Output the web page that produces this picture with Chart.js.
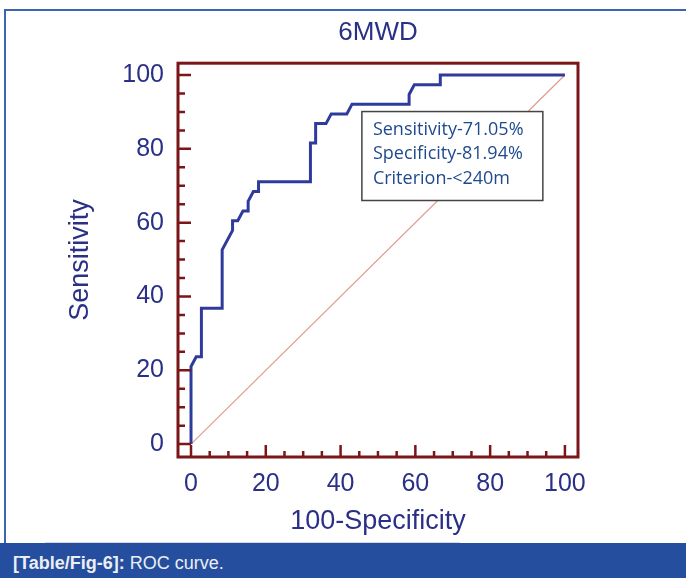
<!DOCTYPE html>
<html>
<head>
<meta charset="utf-8">
<script src="https://cdn.jsdelivr.net/npm/chart.js@4"></script>
<style>
  html, body { margin: 0; padding: 0; background: #fff; }
  body { width: 686px; height: 578px; position: relative; overflow: hidden; }
  #rocCanvas { position: absolute; left: 0; top: 0; }
  .frame-top { position: absolute; left: 4px; top: 9px; width: 682px; height: 2px; background: #3b65b3; }
  .frame-left { position: absolute; left: 4px; top: 9px; width: 2px; height: 534px; background: #3b65b3; }
  .edge { position: absolute; left: 45px; top: 542px; width: 415px; height: 1px; background: #d4d9e4; }
  .caption {
    position: absolute; left: 0; top: 543px; width: 686px; height: 35px;
    background: #254f9e; color: #eceef4;
    font: 18px "Liberation Sans", Arial, sans-serif;
    line-height: 40px; padding-left: 13px; box-sizing: border-box;
  }
  .caption b { font-weight: bold; }
</style>
</head>
<body>
<canvas id="rocCanvas" width="686" height="543"></canvas>
<div class="frame-top"></div>
<div class="frame-left"></div>
<div class="edge"></div>
<div class="caption"><b>[Table/Fig-6]:</b> ROC curve.</div>

<script>
// ── ROC curve data ───────────────────────────────────────────────────────────
// 100-Specificity (x) and Sensitivity (y) of each step on the curve
const fprValues  = [0, 0, 1.39, 2.78, 2.78, 8.33, 8.33, 11.11, 11.11, 12.5, 13.89, 15.28, 15.28, 16.67, 18.06, 18.06,
                    31.94, 31.94, 33.33, 33.33, 36.11, 37.5, 41.67, 43.06, 58.33, 58.33, 59.72, 66.67, 66.67, 100];
const sensValues = [0, 21.05, 23.68, 23.68, 36.84, 36.84, 52.63, 57.89, 60.53, 60.53, 63.16, 63.16, 65.79, 68.42, 68.42, 71.05,
                    71.05, 81.58, 81.58, 86.84, 86.84, 89.47, 89.47, 92.11, 92.11, 94.74, 97.37, 97.37, 100, 100];
const diagX = [0, 100];
const diagY = [0, 100];

const xTickValues = [0, 20, 40, 60, 80, 100];
const yTickValues = [0, 20, 40, 60, 80, 100];
const boxLines = ['Sensitivity-71.05%', 'Specificity-81.94%', 'Criterion-<240m'];

const NAVY   = '#2b3087';
const MAROON = '#7b1518';
const AXIS_FONT = '"Liberation Sans", Arial, sans-serif';

// Frame, inward ticks and the results box — MedCalc style
const rocDecor = {
  id: 'rocDecor',
  afterDatasetsDraw(chart) {
    const { ctx, scales: { x, y } } = chart;
    // results box, anchored in data units
    const left = x.getPixelForValue(45.7), right = x.getPixelForValue(94.1);
    const top = y.getPixelForValue(90.1), bottom = y.getPixelForValue(66.0);
    ctx.save();
    ctx.fillStyle = '#fff';
    ctx.fillRect(left, top, right - left, bottom - top);
    ctx.strokeStyle = '#444';
    ctx.lineWidth = 1.5;
    ctx.strokeRect(left, top, right - left, bottom - top);
    ctx.fillStyle = '#1f4a8e';
    ctx.font = '18px "Open Sans", sans-serif';
    ctx.textBaseline = 'middle';
    boxLines.forEach((t, i) => ctx.fillText(t, left + 11, top + 18 + i * 24.5));
    ctx.restore();
  },
  afterDraw(chart) {
    const { ctx, chartArea: a, scales: { x, y } } = chart;
    ctx.save();
    ctx.strokeStyle = MAROON;
    ctx.lineWidth = 2.5;
    ctx.beginPath();
    for (let v = 0; v <= 100; v += 5) {
      const major = v % 20 === 0;
      const px = x.getPixelForValue(v);
      ctx.moveTo(px, a.bottom);
      ctx.lineTo(px, a.bottom - (major ? 12 : 6));
      const py = y.getPixelForValue(v);
      ctx.moveTo(a.left, py);
      ctx.lineTo(a.left + (major ? 13 : 7), py);
    }
    ctx.stroke();
    ctx.lineWidth = 3;
    ctx.strokeRect(a.left, a.top, a.right - a.left, a.bottom - a.top);
    ctx.restore();
  },
};

new Chart(document.getElementById('rocCanvas'), {
  type: 'scatter',
  data: {
    datasets: [
      {
        label: 'ROC',
        data: fprValues.map((v, i) => ({ x: v, y: sensValues[i] })),
        showLine: true,
        borderColor: '#2f3b9a',
        borderWidth: 3,
        pointRadius: 0,
        order: 1,
      },
      {
        label: 'Reference',
        data: diagX.map((v, i) => ({ x: v, y: diagY[i] })),
        showLine: true,
        borderColor: '#df9c8c',
        borderWidth: 1.2,
        pointRadius: 0,
        order: 2,
      },
    ],
  },
  plugins: [rocDecor],
  options: {
    responsive: false,
    animation: false,
    layout: { padding: { left: 0, right: 108, top: 0, bottom: 0 } },
    plugins: {
      legend: { display: false },
      tooltip: { enabled: false },
      title: {
        display: true,
        text: '6MWD',
        fullSize: false,
        color: NAVY,
        font: { family: AXIS_FONT, size: 26, weight: 'normal' },
        padding: { top: 17, bottom: 15 },
      },
    },
    scales: {
      x: {
        type: 'linear',
        min: -3.48,
        max: 103.5,
        afterBuildTicks: s => { s.ticks = xTickValues.map(v => ({ value: v })); },
        afterFit: s => { s.height = 86; },
        grid: { display: false },
        border: { display: false },
        ticks: { color: NAVY, font: { family: AXIS_FONT, size: 25 }, padding: 4 },
        title: {
          display: true,
          text: '100-Specificity',
          color: NAVY,
          font: { family: AXIS_FONT, size: 27 },
          padding: { top: 0, bottom: 5 },
        },
      },
      y: {
        type: 'linear',
        min: -3.49,
        max: 103.2,
        afterBuildTicks: s => { s.ticks = yTickValues.map(v => ({ value: v })); },
        afterFit: s => { s.width = 178; },
        grid: { display: false },
        border: { display: false },
        ticks: { color: NAVY, font: { family: AXIS_FONT, size: 25 }, padding: 6 },
        title: {
          display: true,
          text: 'Sensitivity',
          color: NAVY,
          font: { family: AXIS_FONT, size: 27 },
          padding: { top: 64, bottom: 0 },
        },
      },
    },
  },
});
</script>
</body>
</html>
